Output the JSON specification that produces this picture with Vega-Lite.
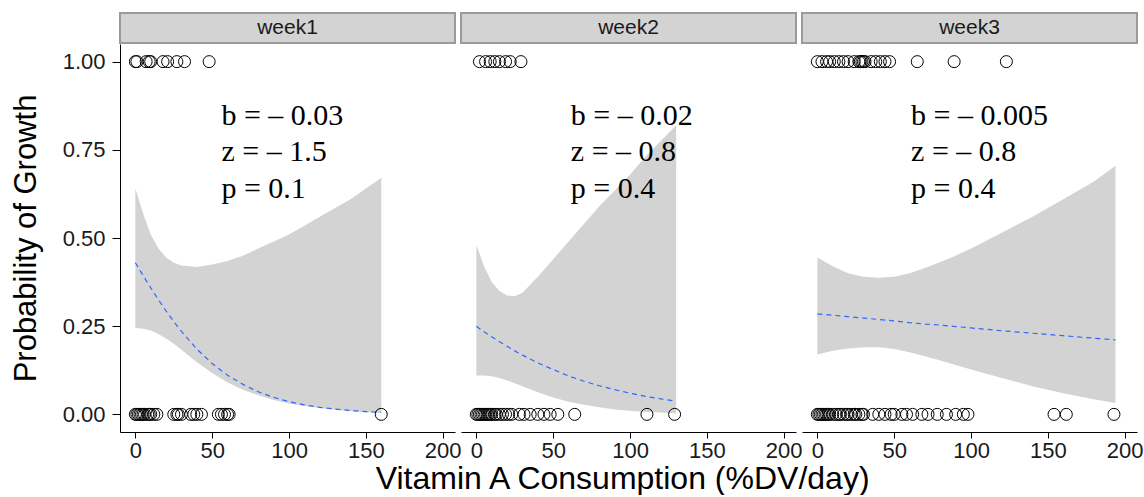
{
  "$schema": "https://vega.github.io/schema/vega-lite/v6.json",
  "padding": {"left": 10, "top": 12, "right": 0, "bottom": 0},
  "background": "white",
  "title": {"text": "Vitamin A Consumption (%DV/day)", "orient": "bottom", "anchor": "middle", "font": "Liberation Sans", "fontSize": 32, "fontWeight": "normal", "color": "#000000", "offset": 3, "dx": 46},
  "datasets": {
    "pts": [
      {"week":"week1","x":0,"y":1},{"week":"week1","x":1,"y":1},{"week":"week1","x":7,"y":1},{"week":"week1","x":9,"y":1},{"week":"week1","x":10,"y":1},{"week":"week1","x":18,"y":1},{"week":"week1","x":21,"y":1},{"week":"week1","x":27,"y":1},{"week":"week1","x":32,"y":1},{"week":"week1","x":48,"y":1},
      {"week":"week1","x":0,"y":0},{"week":"week1","x":1,"y":0},{"week":"week1","x":2,"y":0},{"week":"week1","x":3,"y":0},{"week":"week1","x":4,"y":0},{"week":"week1","x":5,"y":0},{"week":"week1","x":6,"y":0},{"week":"week1","x":8,"y":0},{"week":"week1","x":9,"y":0},{"week":"week1","x":10,"y":0},{"week":"week1","x":12,"y":0},{"week":"week1","x":14,"y":0},{"week":"week1","x":25,"y":0},{"week":"week1","x":27,"y":0},{"week":"week1","x":28,"y":0},{"week":"week1","x":30,"y":0},{"week":"week1","x":36,"y":0},{"week":"week1","x":38,"y":0},{"week":"week1","x":40,"y":0},{"week":"week1","x":43,"y":0},{"week":"week1","x":54,"y":0},{"week":"week1","x":56,"y":0},{"week":"week1","x":58,"y":0},{"week":"week1","x":60,"y":0},{"week":"week1","x":61,"y":0},{"week":"week1","x":160,"y":0},
      {"week":"week2","x":2,"y":1},{"week":"week2","x":6,"y":1},{"week":"week2","x":9,"y":1},{"week":"week2","x":12,"y":1},{"week":"week2","x":15,"y":1},{"week":"week2","x":19,"y":1},{"week":"week2","x":22,"y":1},{"week":"week2","x":29,"y":1},
      {"week":"week2","x":0,"y":0},{"week":"week2","x":1,"y":0},{"week":"week2","x":2,"y":0},{"week":"week2","x":3,"y":0},{"week":"week2","x":4,"y":0},{"week":"week2","x":5,"y":0},{"week":"week2","x":6,"y":0},{"week":"week2","x":7,"y":0},{"week":"week2","x":8,"y":0},{"week":"week2","x":9,"y":0},{"week":"week2","x":10,"y":0},{"week":"week2","x":12,"y":0},{"week":"week2","x":13,"y":0},{"week":"week2","x":15,"y":0},{"week":"week2","x":17,"y":0},{"week":"week2","x":19,"y":0},{"week":"week2","x":21,"y":0},{"week":"week2","x":23,"y":0},{"week":"week2","x":28,"y":0},{"week":"week2","x":31,"y":0},{"week":"week2","x":35,"y":0},{"week":"week2","x":40,"y":0},{"week":"week2","x":44,"y":0},{"week":"week2","x":48,"y":0},{"week":"week2","x":53,"y":0},{"week":"week2","x":64,"y":0},{"week":"week2","x":111,"y":0},{"week":"week2","x":129,"y":0},
      {"week":"week3","x":0,"y":1},{"week":"week3","x":3,"y":1},{"week":"week3","x":6,"y":1},{"week":"week3","x":8,"y":1},{"week":"week3","x":11,"y":1},{"week":"week3","x":14,"y":1},{"week":"week3","x":17,"y":1},{"week":"week3","x":20,"y":1},{"week":"week3","x":24,"y":1},{"week":"week3","x":27,"y":1},{"week":"week3","x":28,"y":1},{"week":"week3","x":29,"y":1},{"week":"week3","x":30,"y":1},{"week":"week3","x":31,"y":1},{"week":"week3","x":35,"y":1},{"week":"week3","x":38,"y":1},{"week":"week3","x":41,"y":1},{"week":"week3","x":44,"y":1},{"week":"week3","x":47,"y":1},{"week":"week3","x":65,"y":1},{"week":"week3","x":89,"y":1},{"week":"week3","x":123,"y":1},
      {"week":"week3","x":0,"y":0},{"week":"week3","x":1,"y":0},{"week":"week3","x":2,"y":0},{"week":"week3","x":3,"y":0},{"week":"week3","x":4,"y":0},{"week":"week3","x":5,"y":0},{"week":"week3","x":6,"y":0},{"week":"week3","x":7,"y":0},{"week":"week3","x":8,"y":0},{"week":"week3","x":10,"y":0},{"week":"week3","x":12,"y":0},{"week":"week3","x":14,"y":0},{"week":"week3","x":15,"y":0},{"week":"week3","x":17,"y":0},{"week":"week3","x":19,"y":0},{"week":"week3","x":20,"y":0},{"week":"week3","x":22,"y":0},{"week":"week3","x":24,"y":0},{"week":"week3","x":25,"y":0},{"week":"week3","x":27,"y":0},{"week":"week3","x":29,"y":0},{"week":"week3","x":30,"y":0},{"week":"week3","x":36,"y":0},{"week":"week3","x":40,"y":0},{"week":"week3","x":44,"y":0},{"week":"week3","x":48,"y":0},{"week":"week3","x":50,"y":0},{"week":"week3","x":55,"y":0},{"week":"week3","x":58,"y":0},{"week":"week3","x":62,"y":0},{"week":"week3","x":68,"y":0},{"week":"week3","x":72,"y":0},{"week":"week3","x":78,"y":0},{"week":"week3","x":84,"y":0},{"week":"week3","x":90,"y":0},{"week":"week3","x":95,"y":0},{"week":"week3","x":98,"y":0},{"week":"week3","x":154,"y":0},{"week":"week3","x":162,"y":0},{"week":"week3","x":193,"y":0}
    ],
    "fit": [
      {"week":"week1","x":0,"fit":0.430,"lo":0.245,"hi":0.64},
      {"week":"week1","x":5,"fit":0.394,"lo":0.243,"hi":0.57},
      {"week":"week1","x":10,"fit":0.359,"lo":0.238,"hi":0.51},
      {"week":"week1","x":15,"fit":0.325,"lo":0.228,"hi":0.47},
      {"week":"week1","x":20,"fit":0.293,"lo":0.215,"hi":0.445},
      {"week":"week1","x":25,"fit":0.263,"lo":0.2,"hi":0.43},
      {"week":"week1","x":30,"fit":0.235,"lo":0.183,"hi":0.422},
      {"week":"week1","x":40,"fit":0.185,"lo":0.148,"hi":0.418},
      {"week":"week1","x":50,"fit":0.144,"lo":0.117,"hi":0.425},
      {"week":"week1","x":60,"fit":0.111,"lo":0.09,"hi":0.435},
      {"week":"week1","x":70,"fit":0.085,"lo":0.07,"hi":0.45},
      {"week":"week1","x":80,"fit":0.064,"lo":0.054,"hi":0.47},
      {"week":"week1","x":90,"fit":0.048,"lo":0.041,"hi":0.49},
      {"week":"week1","x":100,"fit":0.036,"lo":0.031,"hi":0.51},
      {"week":"week1","x":110,"fit":0.027,"lo":0.024,"hi":0.535},
      {"week":"week1","x":120,"fit":0.020,"lo":0.018,"hi":0.56},
      {"week":"week1","x":130,"fit":0.015,"lo":0.013,"hi":0.585},
      {"week":"week1","x":140,"fit":0.011,"lo":0.009,"hi":0.61},
      {"week":"week1","x":150,"fit":0.008,"lo":0.006,"hi":0.64},
      {"week":"week1","x":160,"fit":0.006,"lo":0.004,"hi":0.67},
      {"week":"week2","x":0,"fit":0.25,"lo":0.11,"hi":0.48},
      {"week":"week2","x":5,"fit":0.234,"lo":0.11,"hi":0.42},
      {"week":"week2","x":10,"fit":0.220,"lo":0.108,"hi":0.375},
      {"week":"week2","x":15,"fit":0.206,"lo":0.103,"hi":0.35},
      {"week":"week2","x":20,"fit":0.193,"lo":0.096,"hi":0.337},
      {"week":"week2","x":25,"fit":0.180,"lo":0.088,"hi":0.335},
      {"week":"week2","x":30,"fit":0.168,"lo":0.08,"hi":0.345},
      {"week":"week2","x":40,"fit":0.146,"lo":0.063,"hi":0.39},
      {"week":"week2","x":50,"fit":0.127,"lo":0.048,"hi":0.44},
      {"week":"week2","x":60,"fit":0.109,"lo":0.036,"hi":0.49},
      {"week":"week2","x":70,"fit":0.094,"lo":0.027,"hi":0.54},
      {"week":"week2","x":80,"fit":0.081,"lo":0.02,"hi":0.59},
      {"week":"week2","x":90,"fit":0.070,"lo":0.014,"hi":0.635},
      {"week":"week2","x":100,"fit":0.060,"lo":0.01,"hi":0.68},
      {"week":"week2","x":110,"fit":0.051,"lo":0.007,"hi":0.73},
      {"week":"week2","x":120,"fit":0.044,"lo":0.005,"hi":0.775},
      {"week":"week2","x":130,"fit":0.037,"lo":0.003,"hi":0.82},
      {"week":"week3","x":0,"fit":0.285,"lo":0.17,"hi":0.445},
      {"week":"week3","x":10,"fit":0.281,"lo":0.18,"hi":0.42},
      {"week":"week3","x":20,"fit":0.277,"lo":0.187,"hi":0.40},
      {"week":"week3","x":30,"fit":0.273,"lo":0.19,"hi":0.39},
      {"week":"week3","x":40,"fit":0.269,"lo":0.19,"hi":0.387},
      {"week":"week3","x":50,"fit":0.265,"lo":0.185,"hi":0.39},
      {"week":"week3","x":60,"fit":0.260,"lo":0.176,"hi":0.40},
      {"week":"week3","x":70,"fit":0.256,"lo":0.165,"hi":0.415},
      {"week":"week3","x":80,"fit":0.253,"lo":0.153,"hi":0.432},
      {"week":"week3","x":90,"fit":0.249,"lo":0.14,"hi":0.45},
      {"week":"week3","x":100,"fit":0.245,"lo":0.127,"hi":0.47},
      {"week":"week3","x":120,"fit":0.237,"lo":0.103,"hi":0.515},
      {"week":"week3","x":140,"fit":0.230,"lo":0.08,"hi":0.56},
      {"week":"week3","x":160,"fit":0.223,"lo":0.06,"hi":0.61},
      {"week":"week3","x":180,"fit":0.216,"lo":0.043,"hi":0.66},
      {"week":"week3","x":194,"fit":0.211,"lo":0.032,"hi":0.705}
    ],
    "ann": [
      {"week":"week1","x":56,"y":0.847,"t":"b = – 0.03"},
      {"week":"week1","x":56,"y":0.744,"t":"z = – 1.5"},
      {"week":"week1","x":56,"y":0.639,"t":"p = 0.1"},
      {"week":"week2","x":61.5,"y":0.847,"t":"b = – 0.02"},
      {"week":"week2","x":61.5,"y":0.744,"t":"z = – 0.8"},
      {"week":"week2","x":61.5,"y":0.639,"t":"p = 0.4"},
      {"week":"week3","x":61,"y":0.847,"t":"b = – 0.005"},
      {"week":"week3","x":61,"y":0.744,"t":"z = – 0.8"},
      {"week":"week3","x":61,"y":0.639,"t":"p = 0.4"}
    ]
  },
  "hconcat": [
    {
      "vconcat": [
        {
          "width": 335, "height": 30,
          "data": {"values": [{"w": "week1"}]},
          "view": {"fill": "#d3d3d3", "stroke": "#9a9a9a", "strokeWidth": 2},
          "mark": {"type": "text", "fontSize": 21, "font": "Liberation Sans", "color": "#1a1a1a", "baseline": "middle"},
          "encoding": {"text": {"field": "w"}}
        },
        {
          "width": 335, "height": 388,
          "layer": [
            {
              "data": {"name": "fit"}, "transform": [{"filter": "datum.week == 'week1'"}],
              "mark": {"type": "area", "color": "#d3d3d3", "opacity": 1},
              "encoding": {
                "x": {"field": "x", "type": "quantitative", "scale": {"domain": [-10, 208], "nice": false, "zero": false}, "axis": {"values": [0, 50, 100, 150, 200], "title": null}},
                "y": {"field": "lo", "type": "quantitative", "scale": {"domain": [-0.05, 1.05], "nice": false, "zero": false}, "axis": {"values": [0, 0.25, 0.5, 0.75, 1], "format": ".2f", "title": "Probability of Growth"}},
                "y2": {"field": "hi"}
              }
            },
            {
              "data": {"name": "fit"}, "transform": [{"filter": "datum.week == 'week1'"}],
              "mark": {"type": "line", "color": "#3366FF", "strokeWidth": 1.2, "strokeDash": [5, 4]},
              "encoding": {"x": {"field": "x", "type": "quantitative"}, "y": {"field": "fit", "type": "quantitative"}}
            },
            {
              "data": {"name": "pts"}, "transform": [{"filter": "datum.week == 'week1'"}],
              "mark": {"type": "point", "shape": "circle", "filled": false, "color": "#000000", "size": 144, "strokeWidth": 1, "opacity": 1},
              "encoding": {"x": {"field": "x", "type": "quantitative"}, "y": {"field": "y", "type": "quantitative"}}
            },
            {
              "data": {"name": "ann"}, "transform": [{"filter": "datum.week == 'week1'"}],
              "mark": {"type": "text", "font": "Liberation Serif", "fontSize": 30, "align": "left", "baseline": "middle", "color": "#000000"},
              "encoding": {"x": {"field": "x", "type": "quantitative"}, "y": {"field": "y", "type": "quantitative"}, "text": {"field": "t"}}
            }
          ]
        }
      ],
      "spacing": 0
    },
    {
      "vconcat": [
        {
          "width": 335, "height": 30,
          "data": {"values": [{"w": "week2"}]},
          "view": {"fill": "#d3d3d3", "stroke": "#9a9a9a", "strokeWidth": 2},
          "mark": {"type": "text", "fontSize": 21, "font": "Liberation Sans", "color": "#1a1a1a", "baseline": "middle"},
          "encoding": {"text": {"field": "w"}}
        },
        {
          "width": 335, "height": 388,
          "layer": [
            {
              "data": {"name": "fit"}, "transform": [{"filter": "datum.week == 'week2'"}],
              "mark": {"type": "area", "color": "#d3d3d3", "opacity": 1},
              "encoding": {
                "x": {"field": "x", "type": "quantitative", "scale": {"domain": [-10, 208], "nice": false, "zero": false}, "axis": {"values": [0, 50, 100, 150, 200], "title": null}},
                "y": {"field": "lo", "type": "quantitative", "scale": {"domain": [-0.05, 1.05], "nice": false, "zero": false}, "axis": null},
                "y2": {"field": "hi"}
              }
            },
            {
              "data": {"name": "fit"}, "transform": [{"filter": "datum.week == 'week2'"}],
              "mark": {"type": "line", "color": "#3366FF", "strokeWidth": 1.2, "strokeDash": [5, 4]},
              "encoding": {"x": {"field": "x", "type": "quantitative"}, "y": {"field": "fit", "type": "quantitative"}}
            },
            {
              "data": {"name": "pts"}, "transform": [{"filter": "datum.week == 'week2'"}],
              "mark": {"type": "point", "shape": "circle", "filled": false, "color": "#000000", "size": 144, "strokeWidth": 1, "opacity": 1},
              "encoding": {"x": {"field": "x", "type": "quantitative"}, "y": {"field": "y", "type": "quantitative"}}
            },
            {
              "data": {"name": "ann"}, "transform": [{"filter": "datum.week == 'week2'"}],
              "mark": {"type": "text", "font": "Liberation Serif", "fontSize": 30, "align": "left", "baseline": "middle", "color": "#000000"},
              "encoding": {"x": {"field": "x", "type": "quantitative"}, "y": {"field": "y", "type": "quantitative"}, "text": {"field": "t"}}
            }
          ]
        }
      ],
      "spacing": 0
    },
    {
      "vconcat": [
        {
          "width": 335, "height": 30,
          "data": {"values": [{"w": "week3"}]},
          "view": {"fill": "#d3d3d3", "stroke": "#9a9a9a", "strokeWidth": 2},
          "mark": {"type": "text", "fontSize": 21, "font": "Liberation Sans", "color": "#1a1a1a", "baseline": "middle"},
          "encoding": {"text": {"field": "w"}}
        },
        {
          "width": 335, "height": 388,
          "layer": [
            {
              "data": {"name": "fit"}, "transform": [{"filter": "datum.week == 'week3'"}],
              "mark": {"type": "area", "color": "#d3d3d3", "opacity": 1},
              "encoding": {
                "x": {"field": "x", "type": "quantitative", "scale": {"domain": [-10, 208], "nice": false, "zero": false}, "axis": {"values": [0, 50, 100, 150, 200], "title": null}},
                "y": {"field": "lo", "type": "quantitative", "scale": {"domain": [-0.05, 1.05], "nice": false, "zero": false}, "axis": null},
                "y2": {"field": "hi"}
              }
            },
            {
              "data": {"name": "fit"}, "transform": [{"filter": "datum.week == 'week3'"}],
              "mark": {"type": "line", "color": "#3366FF", "strokeWidth": 1.2, "strokeDash": [5, 4]},
              "encoding": {"x": {"field": "x", "type": "quantitative"}, "y": {"field": "fit", "type": "quantitative"}}
            },
            {
              "data": {"name": "pts"}, "transform": [{"filter": "datum.week == 'week3'"}],
              "mark": {"type": "point", "shape": "circle", "filled": false, "color": "#000000", "size": 144, "strokeWidth": 1, "opacity": 1},
              "encoding": {"x": {"field": "x", "type": "quantitative"}, "y": {"field": "y", "type": "quantitative"}}
            },
            {
              "data": {"name": "ann"}, "transform": [{"filter": "datum.week == 'week3'"}],
              "mark": {"type": "text", "font": "Liberation Serif", "fontSize": 30, "align": "left", "baseline": "middle", "color": "#000000"},
              "encoding": {"x": {"field": "x", "type": "quantitative"}, "y": {"field": "y", "type": "quantitative"}, "text": {"field": "t"}}
            }
          ]
        }
      ],
      "spacing": 0
    }
  ],
  "spacing": -2,
  "align": "none",
  "resolve": {"scale": {"x": "independent", "y": "independent"}},
  "config": {
    "view": {"stroke": null},
    "font": "Liberation Sans",
    "axis": {
      "grid": false,
      "labelFont": "Liberation Sans", "titleFont": "Liberation Sans",
      "labelFontSize": 22, "titleFontSize": 31, "titleFontWeight": "normal",
      "labelColor": "#1a1a1a", "titleColor": "#000000",
      "tickColor": "#000000", "domainColor": "#000000", "domainWidth": 1, "tickWidth": 1,
      "tickSize": 6, "labelPadding": 4, "labelFlush": false, "labelOverlap": false
    },
    "axisY": {"titlePadding": 20, "tickSize": 8, "labelPadding": 7},
    "axisX": {"titlePadding": 0, "labelPadding": 2}
  }
}
